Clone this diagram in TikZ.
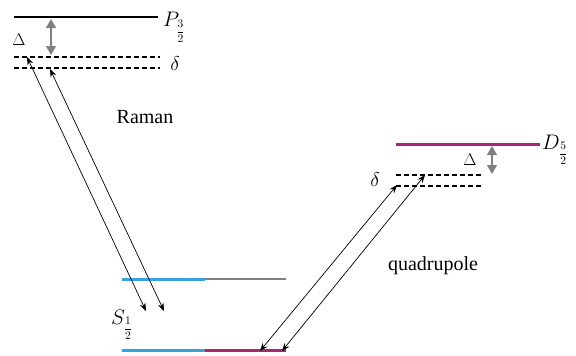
\RequirePackage{fix-cm}
\documentclass[tikz,border=0pt]{standalone}
\usepackage{fontspec}
\setmainfont{Liberation Serif}
\usetikzlibrary{arrows.meta}
\definecolor{ionblue}{RGB}{53,163,223}
\definecolor{ionmagenta}{RGB}{168,40,110}
\definecolor{shiftgray}{RGB}{128,128,128}
\newcommand{\subfrac}[2]{\mbox{\fontsize{11.5}{11.5}\selectfont$\displaystyle\frac{#1}{#2}$}}

\begin{document}
\begin{tikzpicture}[x=1pt, y=-1pt, >={Stealth[length=8pt,width=6pt]}, font=\fontsize{20}{24}\selectfont,
    level/.style={line width=1.6pt},
    virtual/.style={line width=1.2pt, dash pattern=on 5pt off 3pt},
    beam/.style={<->, line width=0.7pt},
    gap/.style={{Triangle[width=10pt,length=9pt]}-{Triangle[width=10pt,length=9pt]}, shiftgray, line width=1.2pt},
    termlabel/.style={font=\fontsize{21}{24}\selectfont, anchor=base west, inner sep=0pt},
    splitlabel/.style={font=\fontsize{17}{20}\selectfont},
    detlabel/.style={font=\fontsize{20}{24}\selectfont}]
        \useasboundingbox (0,0) rectangle (576,356);

        % Raman side
        \draw[level] (14,17) -- (158,17);
        \node[termlabel] (P) at (163,27) {$P_{\subfrac{3}{2}}$};
        \draw[virtual] (14,57) -- (160,57);
        \draw[virtual] (14,68) -- (160,68);
        \node[detlabel] (dl) at (175,64) {$\delta$};
        \node[splitlabel] (Dl) at (19,40) {$\Delta$};
        \coordinate (dtop) at (51,19);
        \coordinate (dbot) at (51,55);
        \draw[gap] (dtop) -- (dbot);
        \node (raman) at (145,117) {Raman};

        % S levels
        \draw[ionblue, line width=3pt] (122,279) -- (205,279);
        \draw[shiftgray, line width=1.5pt] (205,279) -- (286,279);
        \draw[ionblue, line width=3pt] (122,350) -- (205,350);
        \draw[ionmagenta, line width=3pt] (205,350) -- (286,350);
        \node[termlabel] (S) at (111,324) {$S_{\subfrac{1}{2}}$};

        % Raman beams
        \coordinate (r1a) at (27,57);
        \coordinate (r1b) at (146,311);
        \coordinate (r2a) at (50,69);
        \coordinate (r2b) at (164,311);
        \draw[beam] (r1a) -- (r1b);
        \draw[beam] (r2a) -- (r2b);

        % quadrupole side
        \draw[ionmagenta, line width=3pt] (396,144) -- (540,144);
        \node[termlabel] (D) at (542,149) {$D_{\subfrac{5}{2}}$};
        \draw[virtual] (396,175) -- (482,175);
        \draw[virtual] (396,186) -- (482,186);
        \node[detlabel] (dr) at (375,180) {$\delta$};
        \node[splitlabel] (Dr) at (470,160) {$\Delta$};
        \coordinate (etop) at (492,146);
        \coordinate (ebot) at (492,174);
        \draw[gap] (etop) -- (ebot);
        \node (quad) at (433,266) {quadrupole};

        % quadrupole beams
        \coordinate (q1a) at (260,351);
        \coordinate (q1b) at (397,185);
        \coordinate (q2a) at (282,351);
        \coordinate (q2b) at (425,175);
        \draw[beam] (q1a) -- (q1b);
        \draw[beam] (q2a) -- (q2b);
\end{tikzpicture}
\end{document}
